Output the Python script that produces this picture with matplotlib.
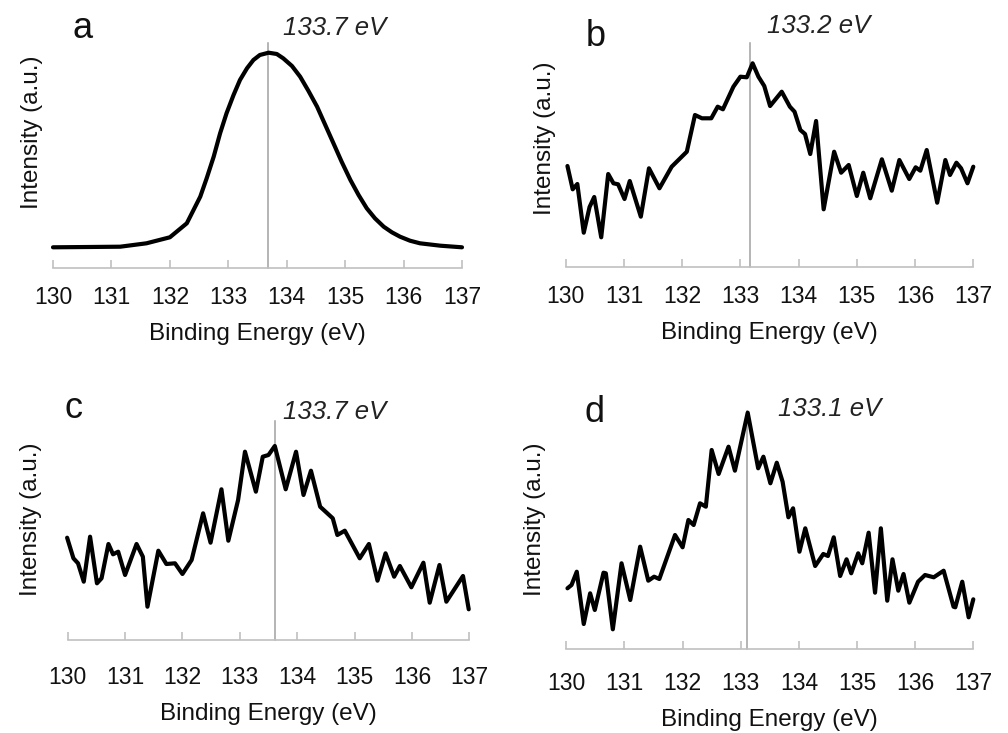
import matplotlib.pyplot as plt

plt.rcParams['font.family'] = ['Liberation Sans', 'DejaVu Sans']

# ---- data (intensity in arbitrary units) ----
ticks = [130, 131, 132, 133, 134, 135, 136, 137]
xlabel = 'Binding Energy (eV)'
ylabel = 'Intensity (a.u.)'

a_energy = [130.0, 130.6, 131.15, 131.6, 132.0, 132.29, 132.52, 132.63, 132.75, 132.86,
            132.97, 133.09, 133.2, 133.32, 133.43, 133.54, 133.69, 133.83, 133.94, 134.09,
            134.23, 134.37, 134.52, 134.66, 134.8, 134.94, 135.09, 135.23, 135.37, 135.51,
            135.66, 135.8, 135.94, 136.11, 136.28, 136.63, 137.0]
a_intensity = [21, 21.3, 21.6, 25, 31, 45, 71.6, 90, 111.6, 135,
               155, 173.3, 188.3, 200, 208.3, 213.3, 215.6, 214.3, 210, 202.3,
               191.6, 177.6, 161.6, 143.3, 125, 106.6, 88.3, 73.3, 60, 50,
               41.6, 36, 31.6, 27.6, 25, 22.6, 21]

b_energy = [130.03, 130.12, 130.2, 130.31, 130.41, 130.49, 130.61, 130.73, 130.82, 130.9,
            131.01, 131.1, 131.29, 131.43, 131.61, 131.82, 132.08, 132.22, 132.34, 132.5,
            132.61, 132.7, 132.88, 133.0, 133.11, 133.21, 133.31, 133.41, 133.51, 133.71,
            133.85, 133.93, 134.03, 134.11, 134.2, 134.3, 134.43, 134.61, 134.73, 134.86,
            135.0, 135.11, 135.23, 135.43, 135.6, 135.73, 135.9, 136.01, 136.09, 136.2,
            136.38, 136.52, 136.6, 136.71, 136.79, 136.9, 137.0]
b_intensity = [101, 77.7, 83, 34.3, 60, 70, 29.7, 93, 83.7, 82.7,
               68, 86, 50.3, 98.7, 78.7, 100.3, 115.3, 152, 148.7, 148.7,
               160.3, 157.7, 180.3, 190.3, 189.7, 203.7, 190.3, 181, 161, 175.3,
               160.3, 155.3, 137, 133, 113, 146, 57.7, 115.3, 94.3, 102,
               71, 94.3, 68.7, 107.7, 76.3, 107, 88, 99.7, 96.3, 117,
               64.3, 107, 92, 104.3, 98.7, 83.7, 100.3]

c_energy = [129.99, 130.1, 130.18, 130.28, 130.39, 130.51, 130.59, 130.71, 130.79, 130.88,
            131.0, 131.2, 131.31, 131.39, 131.58, 131.72, 131.87, 132.0, 132.16, 132.36,
            132.49, 132.68, 132.8, 132.97, 133.09, 133.28, 133.4, 133.5, 133.61, 133.8,
            133.98, 134.11, 134.24, 134.4, 134.62, 134.7, 134.83, 135.09, 135.25, 135.4,
            135.54, 135.69, 135.79, 135.99, 136.2, 136.31, 136.48, 136.6, 136.89, 136.99]
c_intensity = [102.3, 81.7, 76.7, 58.3, 103.3, 56.7, 61.7, 96, 85.7, 88.3,
               65, 96, 83.3, 33.3, 89.3, 76, 76.7, 66, 80, 126.7,
               97.3, 150.7, 99.3, 140, 188.3, 148.3, 183.3, 185, 194, 150.7,
               188.3, 145, 169.3, 133.3, 121.7, 105, 109.3, 81.7, 96, 59.3,
               86.7, 63.3, 74, 52.7, 77.3, 37.3, 75, 38.3, 64, 30.7]

d_energy = [130.02, 130.09, 130.18, 130.3, 130.41, 130.49, 130.64, 130.68, 130.8, 130.95,
            131.1, 131.27, 131.41, 131.51, 131.6, 131.87, 132.0, 132.1, 132.19, 132.3,
            132.4, 132.5, 132.62, 132.79, 132.9, 133.12, 133.3, 133.39, 133.51, 133.62,
            133.72, 133.82, 133.9, 134.01, 134.11, 134.28, 134.42, 134.5, 134.6, 134.71,
            134.82, 134.9, 135.02, 135.09, 135.2, 135.31, 135.41, 135.52, 135.61, 135.71,
            135.8, 135.9, 136.05, 136.17, 136.32, 136.49, 136.66, 136.69, 136.81, 136.92,
            137.0]
d_intensity = [60.4, 63.7, 77, 24.7, 55.4, 38.7, 76, 75.4, 19.4, 85.4,
               48.7, 102, 68, 72, 69.7, 113.7, 101.4, 128.7, 123.7, 145.4,
               142, 198.7, 174.7, 202, 178, 236, 180.4, 192, 165.4, 186,
               167, 131.4, 140.4, 97, 120.4, 82.7, 94.7, 92.7, 111.4, 72.7,
               89.4, 75.4, 95.4, 85.4, 116, 56, 120.4, 48, 89.4, 58,
               74.7, 46, 67, 73.7, 71.4, 78, 42, 41.4, 67, 31.4,
               49.4]

peaks = ['133.7 eV', '133.2 eV', '133.7 eV', '133.1 eV']
peak_pos = [133.68, 133.17, 133.62, 133.11]
letters = ['a', 'b', 'c', 'd']

# ---- layout (pixel positions in the 1008x733 picture) ----
W, H = 1008, 733
fig = plt.figure(figsize=(W / 100, H / 100), dpi=100)

panels = [
    # left, right, axis_y, line_top, tick_pad, xlabel_dy, ylabel_x, ylabel_y
    (53, 462, 268.3, 225, 12.5, 66, 32, 132),
    (565.7, 973.3, 267, 224, 13, 66, 545, 138.5),
    (67.7, 469.3, 640, 219, 19, 74, 31, 519.5),
    (566.3, 973.3, 648.7, 238, 16.5, 71, 535, 519.5),
]
series = [(a_energy, a_intensity), (b_energy, b_intensity),
          (c_energy, c_intensity), (d_energy, d_intensity)]
letter_xy = [(83, 38), (596, 46), (73, 418.5), (595, 421.5)]
peak_xy = [(335, 35), (819, 33.3), (335, 419.3), (829.8, 416)]
hgt = 240

for i, (left, right, axis_y, line_top, tpad, xdy, ylx, yly) in enumerate(panels):
    ax = fig.add_axes([left / W, 1 - axis_y / H, (right - left) / W, hgt / H])
    energy, intensity = series[i]
    ax.plot(energy, intensity, color='black', lw=3, solid_joinstyle='round',
            solid_capstyle='round', clip_on=False, zorder=3)
    ax.plot([peak_pos[i], peak_pos[i]], [0, line_top], color='#a0a0a0', lw=1.1,
            clip_on=False, zorder=2)
    ax.set_xlim(130, 137)
    ax.set_ylim(0, hgt)
    ax.set_xticks(ticks)
    ax.set_yticks([])
    for s in ['left', 'right', 'top']:
        ax.spines[s].set_visible(False)
    ax.spines['bottom'].set_color('#c0c0c0')
    ax.spines['bottom'].set_linewidth(1.2)
    ax.tick_params(axis='x', direction='in', length=5.5, width=1.2, color='#c0c0c0',
                   labelsize=16.5, pad=tpad, labelcolor='#111111')
    ax.set_xlabel(xlabel, fontsize=17.5, va='center', color='#111111')
    ax.xaxis.set_label_coords(0.5, -xdy / hgt)
    ax.set_ylabel(ylabel, fontsize=17.5, va='center', color='#111111')
    ax.yaxis.set_label_coords((ylx - left) / (right - left), (axis_y - yly) / hgt)
    ax.patch.set_alpha(0)

    lx, ly = letter_xy[i]
    fig.text(lx / W, 1 - ly / H, letters[i], fontsize=26, ha='center', va='baseline',
             color='#111111')
    px, py = peak_xy[i]
    fig.text(px / W, 1 - py / H, peaks[i], fontsize=18.5, style='italic', ha='center',
             va='baseline', color='#222222')

fig.savefig('out.png', dpi=100)
